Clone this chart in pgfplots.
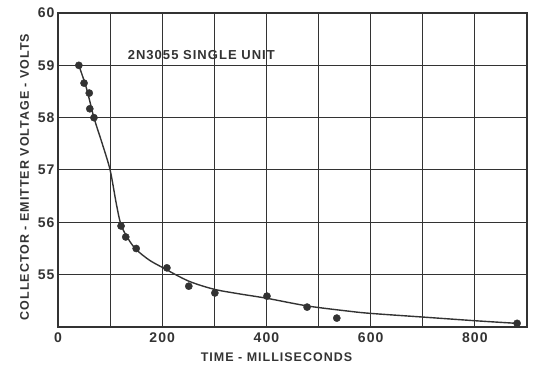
\documentclass[border=0pt]{standalone}
\usepackage{pgfplots}
\pgfplotsset{compat=1.18}
\usepackage{fontspec}
\setmainfont{Liberation Sans}[LetterSpace=8]
\definecolor{ink}{HTML}{333333}
\begin{document}
\begin{tikzpicture}
\begin{axis}[
  scale only axis,
  width=469pt, height=314pt,
  xmin=0, xmax=900, ymin=54, ymax=60,
  xtick={0,100,...,900},
  xticklabels={0,,200,,400,,600,,800,},
  ytick={54,55,...,60},
  yticklabels={,55,56,57,58,59,60},
  major tick length=0pt,
  grid=major,
  grid style={ink, line width=1pt},
  axis line style={ink, line width=1.4pt},
  /pgf/number format/assume math mode=true,
  tick label style={font=\fontsize{14}{16}\selectfont\bfseries, text=ink},
  xticklabel style={yshift=-2pt},
  yticklabel style={xshift=0pt},
  xlabel={TIME - MILLISECONDS},
  ylabel={COLLECTOR - EMITTER VOLTAGE - VOLTS},
  label style={font=\fontsize{12.5}{14}\selectfont\bfseries, text=ink},
  xlabel style={yshift=-3pt, xshift=-16pt},
  ylabel style={yshift=2pt, xshift=-7pt},
  clip=false,
]
\addplot[ink, line width=1.4pt, smooth, tension=0.5] coordinates {
 (40,59.0) (55,58.55) (69,58.0) (85,57.5) (100,57.0) (112,56.35) (121,55.95)
 (135,55.68) (150,55.48) (175,55.28) (200,55.14) (250,54.88) (300,54.72)
 (350,54.63) (400,54.55) (480,54.4) (560,54.3) (600,54.26) (700,54.19)
 (800,54.12) (880,54.07)
};
\addplot[only marks, mark=*, mark size=3.6pt, ink] coordinates {
 (40,59.0) (50,58.66) (60,58.47) (61,58.17) (69,58.0)
 (121,55.93) (130,55.72) (150,55.5) (209,55.13) (251,54.78) (301,54.65)
 (401,54.59) (478,54.38) (535,54.17) (881,54.07)
};
\node[font=\fontsize{13}{15}\selectfont\bfseries, text=ink] at (axis cs:275,59.2) {2N3055 SINGLE UNIT};
\end{axis}
\pgfresetboundingbox
\path (-58pt,-45pt) rectangle (480pt,327pt);
\end{tikzpicture}
\end{document}
